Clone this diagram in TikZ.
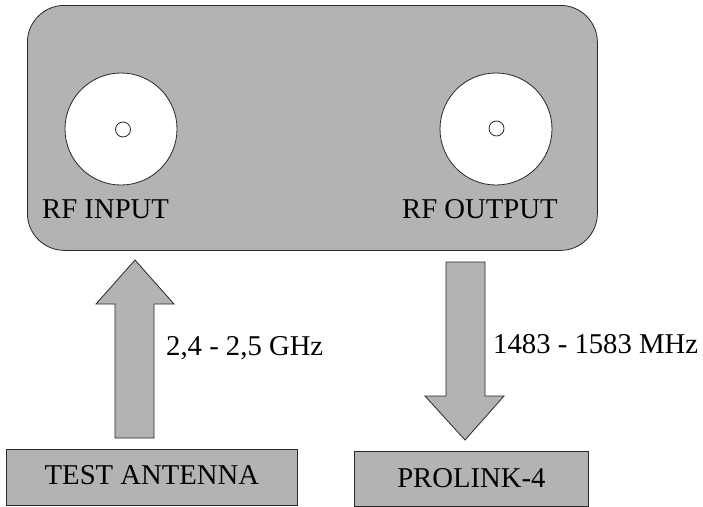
\documentclass[tikz,border=0pt]{standalone}
\usepackage{fontspec}
\setmainfont{Liberation Serif}
\definecolor{panel}{RGB}{179,179,179}
\definecolor{edge}{RGB}{40,40,40}
\begin{document}
\begin{tikzpicture}[x=1pt,y=-1pt,
  lbl/.style={font=\fontsize{28.7}{34}\selectfont, inner sep=0, anchor=base west},
  boxnode/.style={draw=edge, fill=panel, line width=0.8pt, inner sep=0, anchor=north west, font=\fontsize{28.7}{34}\selectfont},
  connector/.style={draw=edge, fill=white, line width=0.8pt, circle, inner sep=0},
  blockarrow/.style={draw=edge, fill=panel, line width=0.8pt, line join=miter}]
\useasboundingbox (0,0) rectangle (703,506);
% main device
\node (dev) [boxnode, rounded corners=37pt, minimum width=570pt, minimum height=245pt] at (27,5) {};
% connectors
\node (inC) [connector, minimum size=112pt] at (121,129) {};
\node (inP) [connector, minimum size=15pt] at (123,129.5) {};
\node (outC) [connector, minimum size=112pt] at (496,129) {};
\node (outP) [connector, minimum size=15pt] at (496.5,128.5) {};
\node (inL) [lbl] at (42,218) {RF INPUT};
\node (outL) [lbl] at (402,218) {RF OUTPUT};
% bottom boxes
\node (ant) [boxnode, minimum width=291pt, minimum height=56pt] at (6,449) {};
\node (antL) [lbl, anchor=base] at (ant.center |- 0,484) {TEST ANTENNA};
\node (pro) [boxnode, minimum width=234pt, minimum height=55pt] at (354,451) {};
\node (proL) [lbl, anchor=base] at (pro.center |- 0,487) {PROLINK-4};
% block arrows
\draw[blockarrow] (115,438) -- (115,304) -- (96,304) -- (135,260) -- (174,304) -- (154,304) -- (154,438) -- cycle;
\draw[blockarrow] (446,262) -- (446,396) -- (425,396) -- (465,440) -- (504,396) -- (485,396) -- (485,262) -- cycle;
\node (f1) [lbl] at (166,355) {2,4 - 2,5 GHz};
\node (f2) [lbl] at (493,353) {1483 - 1583 MHz};
\end{tikzpicture}
\end{document}
